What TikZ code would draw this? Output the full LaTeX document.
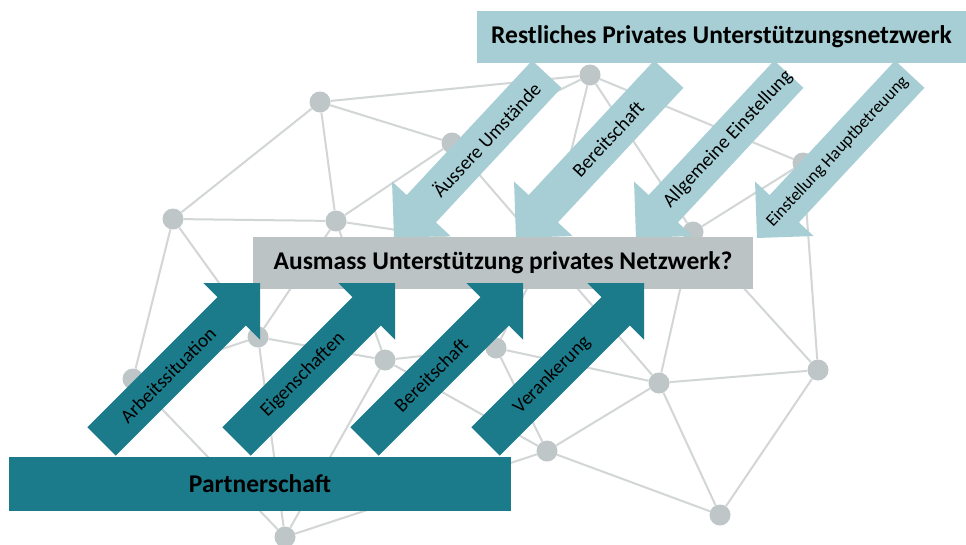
\documentclass[tikz,border=0pt]{standalone}
\usepackage{fontspec}
\setmainfont{Carlito}
\definecolor{lightarr}{HTML}{A6CED4}
\definecolor{boxgray}{HTML}{BBC3C4}
\definecolor{darkteal}{HTML}{1B7B8B}
\definecolor{netnode}{HTML}{BEC6C7}
\definecolor{netline}{HTML}{D2D6D6}
\newcommand{\blockarr}[3]{\fill[#3, shift={#1}, rotate=#2] (0,0) -- (-40,40) -- (-40,20) -- (-224,20) -- (-224,-20) -- (-40,-20) -- (-40,-40) -- cycle;}
\begin{document}
\begin{tikzpicture}[x=1pt,y=-1pt,
  netdot/.style={circle,fill=netnode,minimum size=21pt,inner sep=0pt},
  netedge/.style={draw=netline,line width=2pt},
  lbl/.style={font=\fontsize{19.5}{23}\selectfont,text=black,inner sep=0pt},
  lbls/.style={font=\fontsize{17.5}{21}\selectfont,text=black,inner sep=0pt},
  title/.style={font=\fontsize{25.5}{30}\selectfont\bfseries,text=black,inner sep=0pt}]
\useasboundingbox (0,0) rectangle (966,544);
\fill[white] (0,0) rectangle (966,544);
% network nodes
\node[netdot] (A) at (320,102) {};
\node[netdot] (B) at (590,75) {};
\node[netdot] (C) at (452,143) {};
\node[netdot] (D) at (173,219) {};
\node[netdot] (E) at (336,221) {};
\node[netdot] (F) at (803,163) {};
\node[netdot] (G) at (693,232) {};
\node[netdot] (H) at (133,379) {};
\node[netdot] (I) at (258,337) {};
\node[netdot] (J) at (385,360) {};
\node[netdot] (K) at (496,348) {};
\node[netdot] (L) at (659,383) {};
\node[netdot] (M) at (818,370) {};
\node[netdot] (N) at (547,451) {};
\node[netdot] (O) at (720,515) {};
\node[netdot] (P) at (285,537) {};
\node[netdot] (Q) at (546,252) {};
% network edges
\foreach \a/\b in {A/B,A/C,A/D,A/E,D/E,E/C,C/B,C/L,B/Q,B/G,B/F,E/Q,K/Q,E/I,E/J,D/H,D/I,H/I,H/P,I/J,I/P,J/K,J/N,J/P,K/N,K/L,L/G,L/M,L/N,L/O,M/F,M/G,M/O,N/O,N/P,G/F}
  \draw[netedge] (\a) -- (\b);
% light arrows
\blockarr{(394,238)}{227}{lightarr}
\blockarr{(516,238)}{227}{lightarr}
\blockarr{(636,238)}{227}{lightarr}
\blockarr{(757,238)}{227}{lightarr}
\node[lbl, rotate=47] (lu1) at (486,139.3) {Äussere Umstände};
\node[lbl, rotate=47] (lu2) at (608,139.3) {Bereitschaft};
\node[lbl, rotate=47] (lu3) at (728,139.3) {Allgemeine Einstellung};
\node[lbls, rotate=47] (lu4) at (837.5,151.7) {Einstellung Hauptbetreuung};
% top box
\node[fill=lightarr, minimum width=489pt, minimum height=52pt, title] (top) at (721.5,37) {Restliches Privates Unterstützungsnetzwerk};
% middle box
\node[fill=boxgray, minimum width=500pt, minimum height=52pt, title] (mid) at (503,263) {Ausmass Unterstützung privates Netzwerk?};
% dark arrows
\blockarr{(260,283)}{45}{darkteal}
\blockarr{(395,283)}{45}{darkteal}
\blockarr{(523,283)}{45}{darkteal}
\blockarr{(644,283)}{45}{darkteal}
\node[lbl, rotate=45] (d1) at (168,375) {Arbeitssituation};
\node[lbl, rotate=45] (d2) at (303,375) {Eigenschaften};
\node[lbl, rotate=45] (d3) at (431,375) {Bereitschaft};
\node[lbl, rotate=45] (d4) at (552,375) {Verankerung};
% bottom box
\node[fill=darkteal, minimum width=502pt, minimum height=54pt, title] (part) at (260,484) {Partnerschaft};
\end{tikzpicture}
\end{document}
